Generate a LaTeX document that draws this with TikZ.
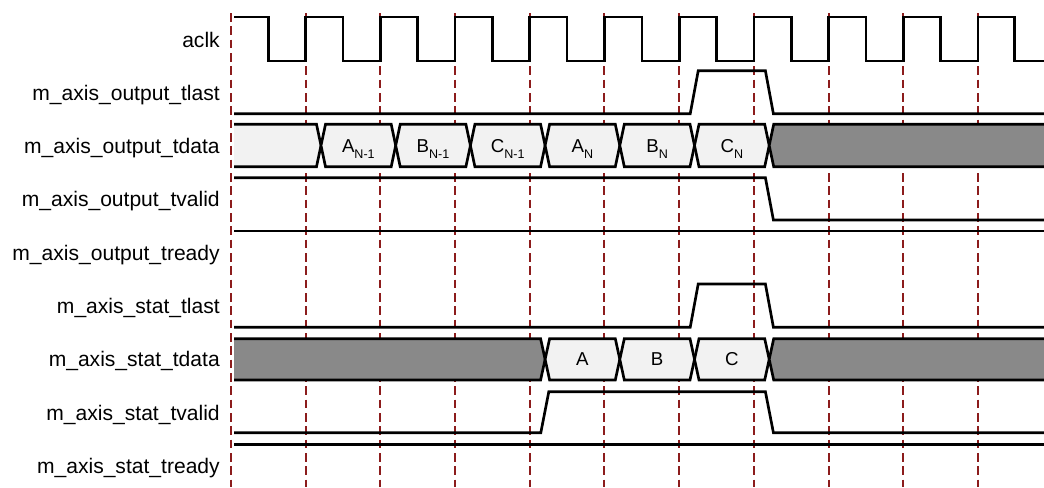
\documentclass[tikz,border=0pt]{standalone}
\usepackage{fontspec}
\setmainfont{Liberation Sans}
\usepackage{tikz}
\usetikzlibrary{positioning}
\usepackage{xcolor}
\definecolor{tmgrid}{RGB}{140,28,28}
\definecolor{tmbus}{RGB}{242,242,242}
\definecolor{tmundef}{RGB}{137,137,137}
\tikzset{
    tmlabel/.style={anchor=base east, inner sep=0pt, font=\fontsize{15.8}{18}\selectfont},
    tmdata/.style={anchor=base, inner sep=0pt, font=\fontsize{14}{16}\selectfont},
    tmwave/.style={line width=2pt, line join=miter},
    tmgridline/.style={tmgrid, line width=1.5pt, dash pattern=on 6.5pt off 3.5pt},
    tmbox/.style={tmwave, fill=tmbus},
    tmvoid/.style={tmwave, fill=tmundef}
}
\newcommand{\tmsub}[1]{\raisebox{-4.2pt}{\fontsize{9.4}{10}\selectfont #1}}

\begin{document}
\begin{tikzpicture}[x=0.75pt, y=-0.75pt]
    \useasboundingbox (0,0) rectangle (1044,487);

    % clock grid
    \foreach \k in {0,...,10}
        \draw[tmgridline] ({round(231+74.7*\k)},13) -- ({round(231+74.7*\k)},487);

    % signal names
    \node[tmlabel] (aclk) at (220,47) {aclk};
    \node[tmlabel] (otlast) at (220,100.3) {m\_axis\_output\_tlast};
    \node[tmlabel] (otdata) at (220,153.6) {m\_axis\_output\_tdata};
    \node[tmlabel] (otvalid) at (220,206.9) {m\_axis\_output\_tvalid};
    \node[tmlabel] (otready) at (220,260.2) {m\_axis\_output\_tready};
    \node[tmlabel] (stlast) at (220,313.5) {m\_axis\_stat\_tlast};
    \node[tmlabel] (stdata) at (220,366.8) {m\_axis\_stat\_tdata};
    \node[tmlabel] (stvalid) at (220,420.1) {m\_axis\_stat\_tvalid};
    \node[tmlabel] (stready) at (220,473.4) {m\_axis\_stat\_tready};

    % aclk
    \draw[tmwave] (234,17) \foreach \k in {0,...,9} {
        -| ({231+74.7*\k+37.35},61) -| ({231+74.7*(\k+1)},17) }
        -| (1014.35,61) -- (1044,61);

    % output stream
    \draw[tmwave] (234,113.8) -- (690.2,113.8) -- (698.2,70.8) -- (765.4,70.8) -- (773.4,113.8) -- (1044,113.8);
    \draw[tmbox] (234,124.3) -- (316.5,124.3) -- (321,145.5) -- (316.5,166.7) -- (234,166.7);
    \foreach \a/\b/\txt/\nm in {321/395.7/{A\tmsub{N-1}}/oan1, 395.7/470.4/{B\tmsub{N-1}}/obn1,
            470.4/545.1/{C\tmsub{N-1}}/ocn1, 545.1/619.8/{A\tmsub{N}}/oan, 619.8/694.5/{B\tmsub{N}}/obn,
            694.5/769.2/{C\tmsub{N}}/ocn} {
        \draw[tmbox] (\a,145.5) -- ({\a+4.5},124.3) -- ({\b-4.5},124.3) -- (\b,145.5)
            -- ({\b-4.5},166.7) -- ({\a+4.5},166.7) -- cycle;
        \node[tmdata] (\nm) at ({(\a+\b)/2},152.7) {\txt};
    }
    \draw[tmvoid] (1044,124.3) -- (773.7,124.3) -- (769.2,145.5) -- (773.7,166.7) -- (1044,166.7);
    \draw[tmwave] (234,177.7) -- (765.4,177.7) -- (773.4,220) -- (1044,220);
    \draw[tmwave] (234,231) -- (1044,231);

    % stat stream
    \draw[tmwave] (234,327.3) -- (690.2,327.3) -- (698.2,284) -- (765.4,284) -- (773.4,327.3) -- (1044,327.3);
    \draw[tmvoid] (234,338.7) -- (540.6,338.7) -- (545.1,359.3) -- (540.6,380) -- (234,380);
    \foreach \a/\b/\txt/\nm in {545.1/619.8/A/sa, 619.8/694.5/B/sb, 694.5/769.2/C/sc} {
        \draw[tmbox] (\a,359.3) -- ({\a+4.5},338.7) -- ({\b-4.5},338.7) -- (\b,359.3)
            -- ({\b-4.5},380) -- ({\a+4.5},380) -- cycle;
        \node[tmdata] (\nm) at ({(\a+\b)/2},365.8) {\txt};
    }
    \draw[tmvoid] (1044,338.7) -- (773.7,338.7) -- (769.2,359.3) -- (773.7,380) -- (1044,380);
    \draw[tmwave] (234,432.7) -- (540.8,432.7) -- (548.8,391.7) -- (765.4,391.7) -- (773.4,432.7) -- (1044,432.7);
    \draw[tmwave] (234,444.3) -- (1044,444.3);
\end{tikzpicture}
\end{document}
